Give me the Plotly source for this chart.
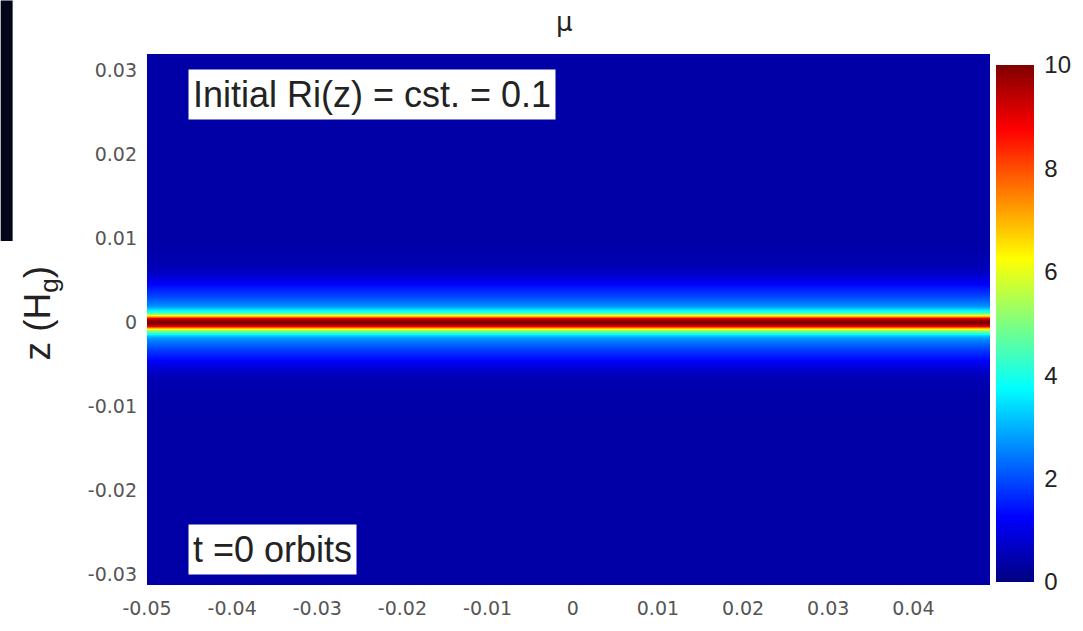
import numpy as np
import plotly.graph_objects as go

# ---- data ----
# distance from the mid-plane (positive half; profile is symmetric) and mu values
z_half = [0.0, 0.00025, 0.0005, 0.00075, 0.001, 0.00125, 0.0015, 0.00175, 0.002,
          0.0025, 0.003, 0.0035, 0.004, 0.0045, 0.005, 0.006, 0.007, 0.009, 0.012, 0.02, 0.033]
mu_half = [10.0, 9.8, 8.9, 6.9, 5.3, 4.2, 3.4, 2.9, 2.6,
           2.3, 2.0, 1.75, 1.5, 1.25, 1.0, 0.65, 0.48, 0.4, 0.37, 0.37, 0.37]
x_cols = [-0.05, 0.049]

x_ticks = [-0.05, -0.04, -0.03, -0.02, -0.01, 0, 0.01, 0.02, 0.03, 0.04]
x_ticktext = ["-0.05", "-0.04", "-0.03", "-0.02", "-0.01", "0", "0.01", "0.02", "0.03", "0.04"]
y_ticks = [-0.03, -0.02, -0.01, 0, 0.01, 0.02, 0.03]
y_ticktext = ["-0.03", "-0.02", "-0.01", "0", "0.01", "0.02", "0.03"]
cb_ticks = [0, 2, 4, 6, 8, 10]

# ---- build grid ----
zh = np.array(z_half)
mh = np.array(mu_half)
y_vals = np.concatenate([-zh[::-1], zh[1:]])
mu_col = np.concatenate([mh[::-1], mh[1:]])
Z = np.tile(mu_col[:, None], (1, len(x_cols)))

jet = [
    [0.0, "rgb(0,0,128)"],
    [0.125, "rgb(0,0,255)"],
    [0.375, "rgb(0,255,255)"],
    [0.625, "rgb(255,255,0)"],
    [0.875, "rgb(255,0,0)"],
    [1.0, "rgb(128,0,0)"],
]

W, H = 1083, 631
L, R, T, B = 147, 994, 54, 591
pw, ph = R - L, B - T

def px(xp):
    return (xp - L) / pw

def py(yp):
    return 1 - (yp - T) / ph

fig = go.Figure()
fig.add_trace(go.Heatmap(
    x=x_cols, y=y_vals, z=Z,
    zmin=0, zmax=10, colorscale=jet, zsmooth="best",
    colorbar=dict(
        x=px(1000), xanchor="left", xpad=0,
        y=py((68 + 585) / 2), yanchor="middle", ypad=0,
        thickness=38, thicknessmode="pixels",
        len=585 - 68, lenmode="pixels",
        tickvals=cb_ticks,
        ticks="outside", ticklen=6, tickcolor="rgba(0,0,0,0)",
        tickfont=dict(family="Liberation Sans, Arial", size=24, color="#222"),
        outlinewidth=0,
    ),
    showscale=True,
))

fig.update_layout(
    width=W, height=H,
    margin=dict(l=L, r=W - R, t=T, b=H - B, pad=0),
    paper_bgcolor="white", plot_bgcolor="white",
    xaxis=dict(range=[-0.05, 0.049], tickvals=x_ticks, ticktext=x_ticktext,
               showgrid=False, zeroline=False, showline=False, ticks="",
               ticklabelstandoff=10,
               tickfont=dict(family="DejaVu Sans", size=19, color="#555")),
    yaxis=dict(range=[-0.0313, 0.0319], tickvals=y_ticks, ticktext=y_ticktext,
               showgrid=False, zeroline=False, showline=False, ticks="",
               ticklabelstandoff=9,
               tickfont=dict(family="DejaVu Sans", size=19, color="#555")),
    showlegend=False,
)

fig.add_annotation(xref="paper", yref="paper", x=px(566), y=py(22),
                   text="μ", showarrow=False, xanchor="center", yanchor="middle",
                   font=dict(family="DejaVu Sans", size=26, color="#222"))
fig.add_annotation(xref="paper", yref="paper", x=px(40), y=py(316),
                   text="z (H<sub>g</sub>)", textangle=-90, showarrow=False,
                   xanchor="center", yanchor="middle",
                   font=dict(family="Liberation Sans, Arial", size=37, color="#222"))
fig.add_annotation(xref="paper", yref="paper", x=px(188), y=py(95),
                   text="Initial Ri(z) = cst. = 0.1", showarrow=False,
                   xanchor="left", yanchor="middle", bgcolor="white", borderpad=4,
                   font=dict(family="Liberation Sans, Arial", size=36, color="#222"))
fig.add_annotation(xref="paper", yref="paper", x=px(188), y=py(555),
                   text="t =0 orbits", showarrow=False,
                   xanchor="left", yanchor="middle", bgcolor="white", borderpad=4,
                   font=dict(family="Liberation Sans, Arial", size=36, color="#222"))

# dark strip at top-left edge of the picture
fig.add_shape(type="rect", xref="paper", yref="paper",
              x0=px(0), x1=px(12), y0=py(243), y1=py(0),
              fillcolor="#05051a", line=dict(width=0), layer="above")

fig.write_html("out.html")
